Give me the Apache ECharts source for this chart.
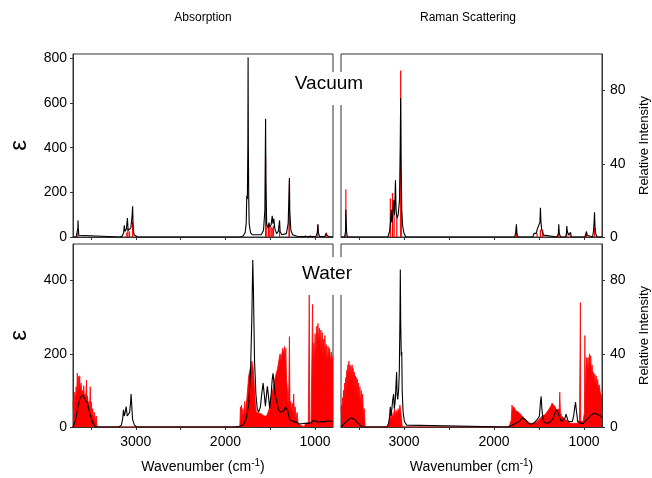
<!DOCTYPE html>
<html><head><meta charset="utf-8">
<script src="https://cdn.jsdelivr.net/npm/echarts@6/dist/echarts.min.js"></script>
<style>html,body{margin:0;padding:0;background:#fff}#c{width:652px;height:478px}</style>
</head><body><div id="c"></div>
<script>
// ---- Data (wavenumber cm-1, value) ----
const absVacCurve = [[3700,0],[3665,0],[3652,8],[3646,40],[3644,75],[3641,40],[3635,8],[3620,0],
 [3180,0],[3150,5],[3135,20],[3128,52],[3120,25],[3105,35],[3093,85],[3085,30],[3070,28],[3055,40],[3040,100],[3035,138],[3030,60],[3020,10],[3000,2],[2980,0],
 [1830,0],[1800,6],[1780,20],[1768,60],[1762,185],[1755,170],[1750,400],[1747,805],[1744,400],[1740,175],[1735,60],[1720,20],[1700,10],
 [1600,10],[1575,30],[1560,120],[1552,530],[1548,250],[1540,60],[1525,40],[1514,65],[1505,45],[1490,55],[1478,95],[1470,60],[1460,82],[1450,40],[1430,15],[1410,25],[1396,75],[1390,25],[1370,10],[1320,15],[1300,60],[1286,264],[1282,120],[1270,30],[1250,10],[1200,3],[1120,2],[1108,10],[1100,2],[1060,2],[1054,10],[1048,2],[990,3],[975,20],[969,57],[963,20],[950,3],[890,2],[880,15],[875,22],[870,10],[850,2],[800,0]];
const absVacStickW = [3646,3100,3088,3070,3035,1552,1545,1520,1505,1490,1478,1465,1396,1290,1286,1108,1054,969,875];
const absVacStickV = [20,20,40,25,70,360,130,55,50,45,40,50,30,100,255,8,8,55,20];

const ramVacCurve = [[3700,0],[3660,0],[3650,3],[3646,15],[3642,8],[3638,3],[3630,0],
 [3180,0],[3160,3],[3150,8],[3141,15],[3135,8],[3125,12],[3115,20],[3105,12],[3095,31],[3088,15],[3078,10],[3065,12],[3050,20],[3042,50],[3037,76],[3033,45],[3025,15],[3015,6],[3000,2],[2980,0],
 [1770,0],[1760,2],[1751,7],[1745,2],[1735,0],
 [1570,0],[1555,2],[1551,3],[1545,1],[1530,2],[1521,4],[1510,3],[1500,5],[1490,8],[1484,16],[1478,8],[1470,4],[1458,3],[1450,1],[1430,0],
 [1300,0],[1285,2],[1280,7],[1275,2],[1260,0],[1205,0],[1195,2],[1191,6],[1185,3],[1170,1],[1155,2],[1150,2.5],[1140,0],
 [990,0],[980,1],[972,3],[965,1],[950,0],[905,0],[895,3],[888,8],[883,13.5],[878,6],[870,2],[855,0],[800,0]];
const ramVacStickW = [3646,3152,3128,3110,3080,3037,3030,1751,1521,1484,1458,1280,1191,1150,972,883];
const ramVacStickV = [26,21,24,16,10,91,22,3,2,4,4,3,3,1,1.5,5];

const absWatCurve = [[3700,0],[3690,4],[3670,20],[3645,55],[3620,80],[3590,88],[3570,85],[3540,65],[3510,35],[3480,12],[3455,2],[3430,0],
 [3190,0],[3160,5],[3145,25],[3137,47],[3128,30],[3118,40],[3107,56],[3095,30],[3082,30],[3068,40],[3057,70],[3052,90],[3045,60],[3035,20],[3015,5],[2990,0],
 [1900,0],[1840,2],[1800,6],[1770,20],[1740,60],[1720,150],[1705,300],[1695,456],[1688,380],[1675,180],[1660,90],[1645,50],[1630,40],[1610,55],[1595,90],[1580,120],[1567,90],[1554,57],[1543,85],[1532,111],[1520,85],[1506,51],[1490,90],[1478,130],[1469,147],[1458,120],[1444,85],[1431,75],[1410,50],[1390,40],[1376,39],[1345,45],[1330,55],[1320,60],[1305,45],[1284,20],[1250,16],[1200,12],[1175,8],[1154,11],[1120,10],[1098,13],[1080,10],[1061,6],[1040,12],[1020,18],[1006,20],[990,16],[960,13],[930,15],[900,14],[870,16],[840,17],[800,15]];
const absWatBand = [[3700,70],[3695,45],[3690,80],[3685,55],[3680,95],[3672,70],[3665,110],[3660,80],[3652,147],[3645,90],[3638,138],[3632,95],[3625,140],[3618,95],[3610,120],[3602,90],[3595,100],[3588,85],[3580,113],[3572,80],[3565,90],[3558,75],[3550,128],[3544,70],[3538,85],[3530,60],[3522,70],[3515,45],[3508,110],[3502,40],[3495,68],[3488,30],[3480,50],[3470,20],[3460,40],[3450,10],[3440,30],[3432,0],
 [1840,0],[1832,55],[1826,10],[1820,60],[1812,20],[1805,50],[1795,25],[1785,70],[1778,30],[1770,60],[1760,80],[1750,110],[1740,140],[1732,150],[1725,147],[1718,165],[1712,150],[1705,180],[1698,170],[1690,160],[1682,130],[1675,100],[1665,60],[1655,40],[1645,35],[1630,38],[1615,40],[1600,36],[1585,32],[1570,30],[1555,28],[1540,30],[1525,35],[1510,50],[1500,70],[1488,75],[1478,95],[1465,110],[1450,129],[1440,140],[1428,150],[1418,160],[1408,175],[1398,190],[1390,200],[1380,180],[1370,200],[1360,215],[1350,200],[1340,220],[1333,170],[1326,215],[1318,130],[1308,100],[1300,60],[1292,120],[1286,247],[1280,60],[1270,70],[1262,40],[1252,65],[1245,35],[1238,90],[1230,30],[1222,55],[1212,20],[1200,40],[1190,10],[1175,15],[1160,5],[1150,0],[1120,0],[1110,8],[1100,3],[1085,12],[1075,4],[1065,362],[1060,4],[1045,12],[1035,8],[1028,335],[1022,140],[1015,230],[1008,180],[1000,255],[990,200],[982,275],[975,240],[968,283],[960,230],[950,270],[942,200],[935,265],[928,210],[920,258],[912,190],[905,240],[897,200],[890,250],[880,180],[872,225],[862,170],[855,220],[846,185],[838,215],[828,175],[820,205],[810,180],[800,195]];

const ramWatCurve = [[3700,0],[3680,1],[3650,2.5],[3620,4],[3590,5],[3570,5],[3545,4],[3520,2.5],[3490,1],[3460,0],
 [3190,0],[3170,2],[3160,6],[3152,11],[3145,6],[3135,10],[3125,15],[3115,18],[3108,10],[3098,14],[3090,22],[3082,30],[3077,18],[3070,15],[3060,20],[3052,30],[3045,60],[3041,86],[3036,55],[3030,39],[3025,41],[3020,20],[3010,8],[2995,3],[2970,1],[2948,0],
 [1850,0],[1800,1],[1760,2],[1720,3],[1690,5],[1669,5.4],[1650,4],[1620,2],[1590,1.5],[1560,2],[1540,3],[1521,4],[1510,3],[1495,6],[1485,13],[1476,16.7],[1468,10],[1455,4],[1440,2.5],[1428,2],[1400,2],[1370,3],[1340,5],[1320,8],[1305,9.4],[1290,8],[1270,5],[1250,3],[1230,3],[1210,5],[1200,7],[1187,6],[1175,3],[1160,2],[1130,3],[1115,6],[1105,10],[1094,13.6],[1085,9],[1070,3],[1055,2],[1039,2],[1010,2],[990,3],[970,4],[950,5],[930,6],[910,7],[890,7.5],[872,7.6],[850,7],[830,6.5],[817,6],[800,5]];
const ramWatBand = [[3700,8],[3695,12],[3690,9],[3684,16],[3678,12],[3672,20],[3666,15],[3660,24],[3654,18],[3648,27],[3642,20],[3636,31],[3630,24],[3624,34],[3618,26],[3612,36],[3606,27],[3600,34],[3594,25],[3588,33],[3582,26],[3576,34],[3570,24],[3564,32],[3558,22],[3552,30],[3546,21],[3540,28],[3534,20],[3528,27],[3522,18],[3516,26],[3510,16],[3504,24],[3498,14],[3490,22],[3482,12],[3475,20],[3468,9],[3460,18],[3450,6],[3440,10],[3432,0],
 [3180,0],[3165,3],[3155,6],[3145,4],[3135,8],[3125,5],[3115,7],[3105,10],[3095,6],[3085,9],[3075,7],[3065,10],[3055,8],[3045,12],[3035,13],[3028,5],[3020,0],
 [1830,0],[1817,3],[1812,0],[1800,12],[1790,9],[1780,11],[1770,10],[1760,9],[1745,8],[1725,8],[1705,7],[1687,6],[1665,5],[1650,4],[1632,3],[1600,2],[1557,2],[1520,3],[1500,4],[1484,5],[1460,6],[1440,7],[1428,7],[1400,9],[1385,10],[1372,11],[1355,13],[1335,14],[1320,11],[1305,9],[1298,8],[1275,10],[1269,19],[1262,8],[1250,6],[1243,6],[1225,5],[1206,4],[1180,3],[1150,2],[1120,2],[1094,2],[1070,2],[1050,4],[1040,68],[1036,3],[1010,3],[995,8],[990,50],[985,10],[978,32],[970,38],[962,31],[955,38],[948,30],[940,40],[932,33],[925,39],[918,29],[910,34],[902,27],[895,30],[887,25],[880,29],[872,23],[864,28],[856,22],[848,26],[840,21],[830,23],[820,19],[810,20],[800,16]];

const xTickValues = [1000,1500,2000,2500,3000,3500];
const xLabelValues = [1000,2000,3000];
const absVacTicks = [0,200,400,600,800];
const absWatTicks = [0,200,400];
const ramTicks = [0,40,80];

// ---- Chart ----
const zip = (w, v) => w.map((x, i) => [x, v[i]]);
const chart = echarts.init(document.getElementById('c'), null, {renderer: 'canvas'});
const FONT = '"Liberation Sans", Arial, Helvetica, sans-serif';
const AX = '#333';
const plain = v => String(v);

const grids = [
  {left: 73, top: 54, width: 260, height: 183},
  {left: 341, top: 54, width: 261, height: 183},
  {left: 73, top: 244, width: 260, height: 183},
  {left: 341, top: 244, width: 261, height: 183}
].map(g => Object.assign({show: true, borderColor: AX, borderWidth: 1, containLabel: false, outerBoundsMode: 'none'}, g));

function xAx(i, bottom) {
  return {
    type: 'value', gridIndex: i, min: 800, max: 3700, inverse: true,
    axisLine: {show: true, onZero: false, lineStyle: {color: AX, width: 1}},
    axisTick: {show: true, length: 3, lineStyle: {color: AX}, customValues: xTickValues},
    axisLabel: {show: bottom, customValues: xLabelValues, formatter: plain, color: '#000', fontSize: 14, fontFamily: FONT, margin: 8},
    splitLine: {show: false},
    name: bottom ? '{a|Wavenumber (cm}{s|-1}{a|)}' : '',
    nameLocation: 'middle', nameGap: 31,
    nameTextStyle: {rich: {a: {fontSize: 14, fontFamily: FONT, color: '#000', verticalAlign: 'bottom', lineHeight: 16}, s: {fontSize: 10, fontFamily: FONT, color: '#000', verticalAlign: 'top', lineHeight: 16, padding: [0,0,8,0]}}}
  };
}
function yAx(i, max, ticks, pos, name, nameGap, nameSize) {
  return {
    type: 'value', gridIndex: i, min: 0, max: max, position: pos,
    axisLine: {show: true, lineStyle: {color: AX, width: 1}},
    axisTick: {show: true, length: 3, lineStyle: {color: AX}, customValues: ticks},
    axisLabel: {show: true, customValues: ticks, formatter: plain, color: '#000', fontSize: 14, fontFamily: FONT, margin: pos === 'left' ? 6 : 8},
    splitLine: {show: false},
    name: name, nameLocation: 'middle', nameRotate: 90, nameGap: nameGap,
    nameTextStyle: {fontSize: nameSize, fontFamily: FONT, color: '#000'}
  };
}

const lineS = (xi, data, color, w) => ({type: 'line', xAxisIndex: xi, yAxisIndex: xi, data: data, symbol: 'none', smooth: false,
  lineStyle: {color: color, width: w}, silent: true, animation: false});
const areaS = (xi, data) => ({type: 'line', xAxisIndex: xi, yAxisIndex: xi, data: data, symbol: 'none',
  lineStyle: {color: '#ff0000', width: 0.8}, areaStyle: {color: '#ff0000', opacity: 1}, silent: true, animation: false});
const stickS = (xi, data) => ({type: 'bar', xAxisIndex: xi, yAxisIndex: xi, data: data, barWidth: 1.2,
  itemStyle: {color: '#ff0000'}, silent: true, animation: false});

chart.setOption({
  animation: false,
  backgroundColor: '#fff',
  grid: grids,
  xAxis: [xAx(0, false), xAx(1, false), xAx(2, true), xAx(3, true)],
  yAxis: [
    yAx(0, 820, absVacTicks, 'left', 'ε', 42, 24),
    yAx(1, 100, ramTicks, 'right', 'Relative Intensity', 36, 13),
    yAx(2, 500, absWatTicks, 'left', 'ε', 42, 24),
    yAx(3, 100, ramTicks, 'right', 'Relative Intensity', 36, 13)
  ],
  series: [
    lineS(0, absVacCurve, '#000', 1.1),
    stickS(0, zip(absVacStickW, absVacStickV)),
    lineS(1, ramVacCurve, '#000', 1.1),
    stickS(1, zip(ramVacStickW, ramVacStickV)),
    areaS(2, absWatBand),
    lineS(2, absWatCurve, '#000', 1.1),
    areaS(3, ramWatBand),
    lineS(3, ramWatCurve, '#000', 1.1)
  ],
  graphic: [
    {type: 'rect', z: 100, shape: {x: 292, y: 72, width: 74, height: 33}, style: {fill: '#fff'}},
    {type: 'text', z: 101, x: 329, y: 84, style: {text: 'Vacuum', fontSize: 19, fontFamily: FONT, fill: '#000', align: 'center', verticalAlign: 'middle'}},
    {type: 'rect', z: 100, shape: {x: 298, y: 257, width: 58, height: 38}, style: {fill: '#fff'}},
    {type: 'text', z: 101, x: 327, y: 274, style: {text: 'Water', fontSize: 19, fontFamily: FONT, fill: '#000', align: 'center', verticalAlign: 'middle'}},
    {type: 'text', z: 101, x: 203, y: 18, style: {text: 'Absorption', fontSize: 12, fontFamily: FONT, fill: '#000', align: 'center', verticalAlign: 'middle'}},
    {type: 'text', z: 101, x: 468, y: 18, style: {text: 'Raman Scattering', fontSize: 12, fontFamily: FONT, fill: '#000', align: 'center', verticalAlign: 'middle'}}
  ]
});
</script></body></html>
